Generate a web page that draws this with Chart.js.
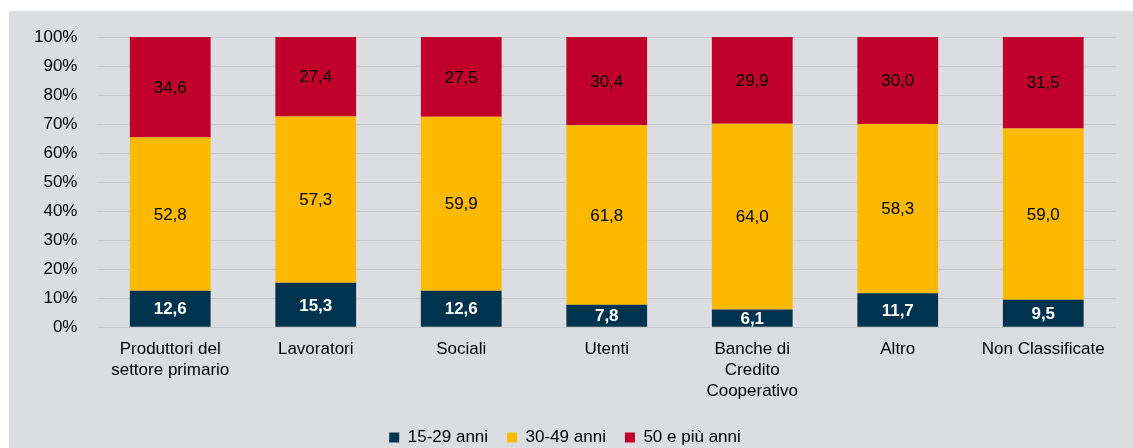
<!DOCTYPE html>
<html><head><meta charset="utf-8">
<script src="https://cdn.jsdelivr.net/npm/chart.js@4/dist/chart.umd.min.js"></script>
<style>
html,body{margin:0;padding:0;background:#fff;}
#wrap{position:absolute;left:9px;top:11px;width:1124px;height:437px;background:#dcdde0;}
</style></head><body>
<div id="wrap"><canvas id="c" width="1124" height="437"></canvas></div>
<script>
const categories = [["Produttori del","settore primario"],"Lavoratori","Sociali","Utenti",["Banche di","Credito","Cooperativo"],"Altro","Non Classificate"];
const seriesNames = ["15-29 anni","30-49 anni","50 e più anni"];
const young = [12.6,15.3,12.6,7.8,6.1,11.7,9.5];
const middle = [52.8,57.3,59.9,61.8,64.0,58.3,59.0];
const old = [34.6,27.4,27.5,30.4,29.9,30.0,31.5];
const colors = ["#00344e","#fbba00","#c0002a"];

const labelPlugin = {
  id:'barLabels',
  afterDatasetsDraw(chart){
    const ctx = chart.ctx;
    chart.data.datasets.forEach((ds,i)=>{
      const meta = chart.getDatasetMeta(i);
      meta.data.forEach((bar,j)=>{
        const v = ds.data[j];
        const y = (bar.y + bar.base)/2;
        ctx.save();
        ctx.font = (i===0?'bold ':'') + '17px "Liberation Sans", Arial, sans-serif';
        ctx.fillStyle = i===0 ? '#ffffff' : '#000000';
        ctx.textAlign='center'; ctx.textBaseline='middle';
        ctx.fillText(v.toFixed(1).replace('.',','), bar.x, y+1);
        ctx.restore();
      });
    });
  }
};

Chart.defaults.font.family = '"Liberation Sans", Arial, sans-serif';
Chart.defaults.font.size = 17;
Chart.defaults.color = '#000';

new Chart(document.getElementById('c'),{
  type:'bar',
  data:{
    labels:categories,
    datasets:[
      {label:seriesNames[0],data:young,backgroundColor:colors[0]},
      {label:seriesNames[1],data:middle,backgroundColor:colors[1]},
      {label:seriesNames[2],data:old,backgroundColor:colors[2]}
    ]
  },
  options:{
    responsive:false,animation:false,
    datasets:{bar:{categoryPercentage:1,barPercentage:0.555}},
    layout:{padding:{left:5,right:17,top:26,bottom:-8}},
    scales:{
      x:{stacked:true,grid:{display:false},border:{display:false},
         ticks:{padding:4,maxRotation:0,font:{size:17,lineHeight:1.23}},
         afterFit:(a)=>{a.height += 4;}},
      y:{stacked:true,min:0,max:100,grid:{color:'#c9cacd',drawTicks:false},border:{display:false},
         ticks:{stepSize:10,padding:20,callback:v=>v+'%'},
         afterFit:(a)=>{a.paddingTop = 0; a.paddingBottom = 0;}}
    },
    plugins:{
      legend:{position:'bottom',labels:{boxWidth:10,boxHeight:10,padding:19,font:{size:17}}},
      tooltip:{enabled:false}
    }
  },
  plugins:[labelPlugin]
});
</script></body></html>
